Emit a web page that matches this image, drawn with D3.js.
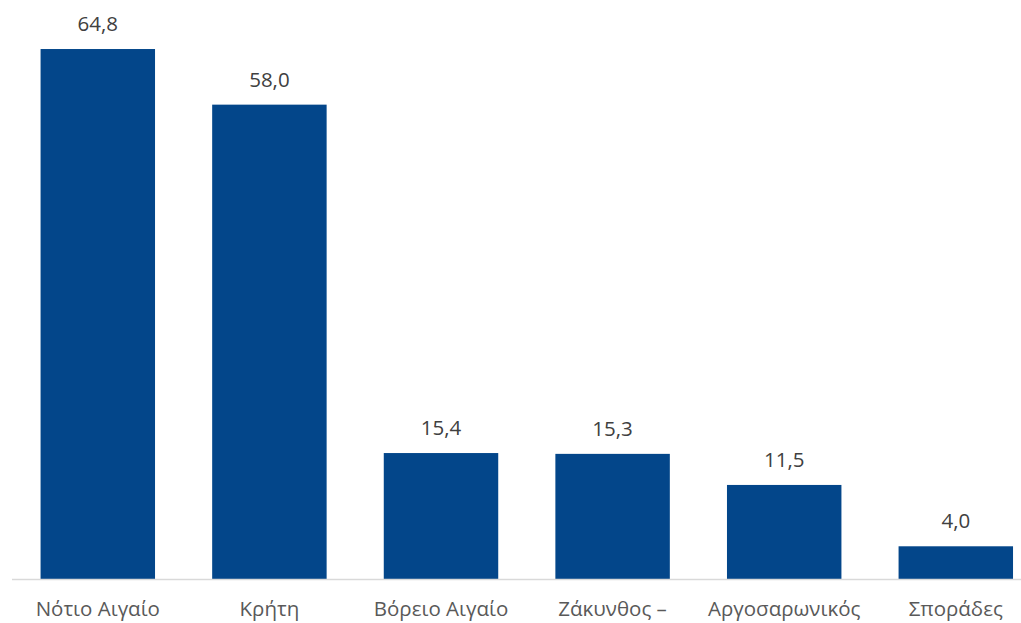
<!DOCTYPE html>
<html><head><meta charset="utf-8">
<script src="https://cdn.jsdelivr.net/npm/d3@7"></script>
<style>body{margin:0;background:#fff;}svg{display:block;}</style>
</head><body><svg id="c" width="1021" height="623"></svg>
<script>
const categories = ["Νότιο Αιγαίο","Κρήτη","Βόρειο Αιγαίο","Ζάκυνθος –","Αργοσαρωνικός","Σποράδες"];
const values = [64.8, 58.0, 15.4, 15.3, 11.5, 4.0];
const valueLabels = ["64,8","58,0","15,4","15,3","11,5","4,0"];

const svg = d3.select("#c");
const x = d3.scaleBand().domain(categories).range([12, 1041.6]).paddingInner(0.333).paddingOuter(0.1665);
const y = d3.scaleLinear().domain([0, 70]).range([579, 6.5]);
const font = "'Open Sans', sans-serif";

svg.selectAll("rect.bar").data(values).join("rect")
  .attr("class","bar")
  .attr("x",(d,i)=>x(categories[i]))
  .attr("width",x.bandwidth())
  .attr("y",d=>y(d))
  .attr("height",d=>y(0)-y(d))
  .attr("fill","#03468a");

svg.append("line").attr("x1",12).attr("x2",1021).attr("y1",579.5).attr("y2",579.5)
  .attr("stroke","#d9d9d9").attr("stroke-width",1.5);

svg.selectAll("text.val").data(values).join("text")
  .attr("class","val")
  .attr("x",(d,i)=>x(categories[i])+x.bandwidth()/2)
  .attr("y",d=>y(d)-18)
  .attr("text-anchor","middle")
  .attr("font-family",font).attr("font-size",20.5).attr("fill","#404040")
  .text((d,i)=>valueLabels[i]);

svg.selectAll("text.cat").data(categories).join("text")
  .attr("class","cat")
  .attr("x",d=>x(d)+x.bandwidth()/2)
  .attr("y",616)
  .attr("text-anchor","middle")
  .attr("font-family",font).attr("font-size",20.5).attr("fill","#595959")
  .text(d=>d);
</script></body></html>
